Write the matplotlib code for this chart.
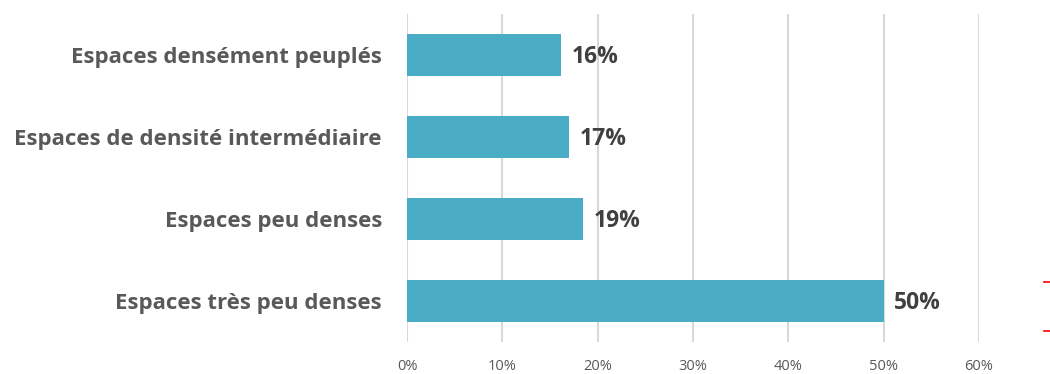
import numpy as np
import matplotlib.pyplot as plt
from matplotlib.lines import Line2D
from matplotlib.ticker import PercentFormatter

categories = ["Espaces très peu denses", "Espaces peu denses",
              "Espaces de densité intermédiaire", "Espaces densément peuplés"]
values = [50.0, 18.5, 17.0, 16.2]
labels = ["50%", "19%", "17%", "16%"]
xticks = [0, 10, 20, 30, 40, 50, 60]

plt.rcParams['font.family'] = ['Open Sans', 'DejaVu Sans']

fig = plt.figure(figsize=(10.5, 3.74), dpi=100)
ax = fig.add_axes([407 / 1050, 32 / 374, 572 / 1050, 328 / 374])

y = np.arange(len(categories))
ax.barh(y, values, height=0.52, color="#4bacc6", zorder=3)

for yi, v, lab in zip(y, values, labels):
    ax.text(v + 1.1, yi - 0.02, lab, va="center", ha="left", fontsize=16.5,
            fontweight="bold", color="#404040")

ax.set_xlim(0, 60)
ax.set_ylim(-0.5, 3.5)
ax.set_xticks(xticks)
ax.xaxis.set_major_formatter(PercentFormatter(decimals=0))
ax.set_yticks(y)
ax.set_yticklabels(categories, fontsize=16, fontweight="bold", color="#595959")
ax.tick_params(axis="y", length=0, pad=18)
ax.tick_params(axis="x", length=0, pad=12, labelsize=10.5, labelcolor="#595959")
ax.grid(axis="x", color="#d9d9d9", linewidth=1.5, zorder=0)
for s in ax.spines.values():
    s.set_visible(False)

# small red marks at the right edge
for yy in (282, 331):
    fig.add_artist(Line2D([1044 / 1050, 1050 / 1050], [1 - yy / 374] * 2,
                          color="red", linewidth=1.2))

plt.savefig("out.png")
